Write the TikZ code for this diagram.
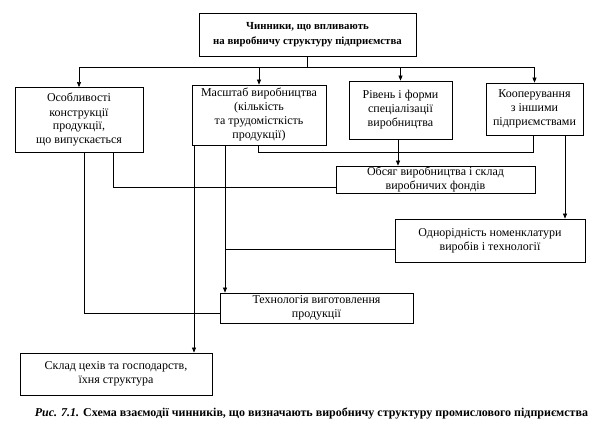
\documentclass[tikz,border=0pt]{standalone}
\usepackage{fontspec}
\setmainfont{Liberation Serif}
\usetikzlibrary{arrows.meta}
\begin{document}
\begin{tikzpicture}[x=1pt,y=-1pt,
  box/.style={draw,line width=0.8pt,inner sep=0pt,align=center,font=\fontsize{12}{14}\selectfont},
  conn/.style={line width=0.6pt},
  arr/.style={conn,-{Triangle[length=5pt,width=4pt]}}]
\useasboundingbox (0,0) rectangle (600,433);
% boxes: center, width, height
\node[box,font=\bfseries\fontsize{10.8}{15}\selectfont,minimum width=217pt,minimum height=43pt] (top) at (307.5,34.5) {Чинники, що впливають\\на виробничу структуру підприємства};
\node[box,minimum width=128pt,minimum height=65pt] (b1) at (79,120) {Особливості\\конструкції\\продукції,\\що випускається};
\node[box,minimum width=134pt,minimum height=60pt] (b2) at (259,115) {Масштаб виробництва\\(кількість\\та трудомісткість\\продукції)};
\node[box,minimum width=103pt,minimum height=58pt] (b3) at (400.5,110) {Рівень і форми\\спеціалізації\\виробництва};
\node[box,minimum width=97pt,minimum height=52pt] (b4) at (534.5,109) {Кооперування\\з іншими\\підприємствами};
\node[box,minimum width=199pt,minimum height=27pt] (obs) at (435.5,179.5) {Обсяг виробництва і склад\\виробничих фондів};
\node[box,minimum width=190pt,minimum height=43pt] (odn) at (490,240.5) {Однорідність номенклатури\\виробів і технології};
\node[box,minimum width=193pt,minimum height=30pt] (tech) at (316.5,308) {Технологія виготовлення\\продукції};
\node[box,minimum width=192pt,minimum height=42pt] (skl) at (116,374) {Склад цехів та господарств,\\їхня структура};
\node[inner sep=0pt,font=\bfseries\fontsize{12}{14}\selectfont] (cap) at (311.5,413) {\textit{Рис. 7.1.} Схема взаємодії чинників, що визначають виробничу структуру промислового підприємства};
% helper coordinates
\coordinate (bus) at (307,67);
\coordinate (x84) at (84,0);
\coordinate (x113) at (113,0);
\coordinate (x194) at (194,0);
\coordinate (x225) at (225,0);
\coordinate (j) at (258,152);
\coordinate (x398) at (398,0);
\coordinate (x533) at (533,0);
\coordinate (x565) at (565,0);
% connectors
\draw[conn] (top.south -| bus) -- (bus);
\draw[arr] (bus) -| (b1.north);
\draw[arr] (bus) -| (b2.north);
\draw[arr] (bus) -| (b3.north);
\draw[arr] (bus) -| (b4.north);
\draw[conn] (b1.south -| x84) |- ([yshift=-5pt]tech.west);
\draw[conn] (b1.south -| x113) |- ([yshift=-8pt]obs.west);
\draw[arr] (b2.south -| x194) -- (skl.north -| x194);
\draw[arr] (b2.south -| x225) -- (tech.north -| x225);
\draw[conn] ([yshift=-9pt]odn.west) -- ([yshift=-9pt]odn.west -| x225);
\draw[conn] (b2.south -| j) -- (j) -| (b4.south -| x533);
\draw[arr] (b3.south -| x398) -- (obs.north -| x398);
\draw[arr] (b4.south -| x565) -- (odn.north -| x565);
\end{tikzpicture}
\end{document}
